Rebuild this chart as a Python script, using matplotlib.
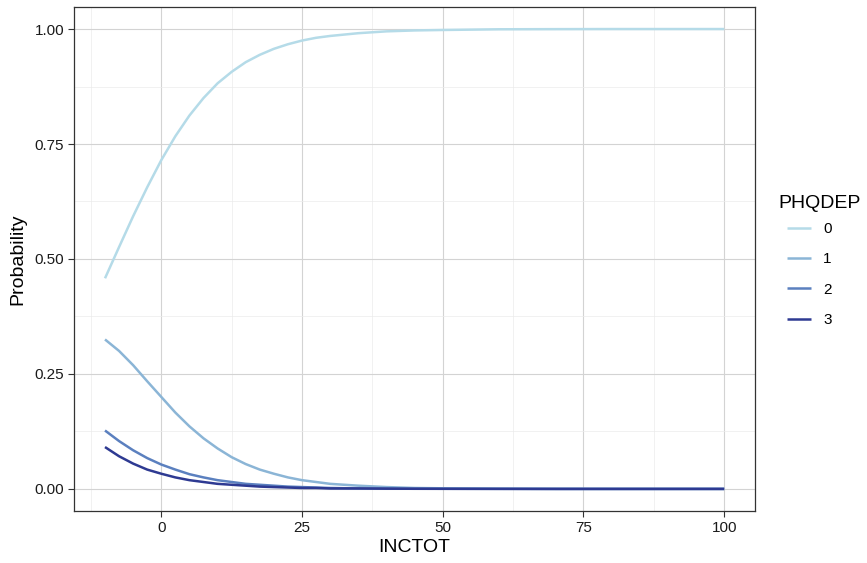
import matplotlib
matplotlib.use("Agg")
import matplotlib.pyplot as plt
from matplotlib.ticker import MultipleLocator

plt.rcParams["font.family"] = ["Liberation Sans", "DejaVu Sans"]

# predicted probabilities
inctot = [-10, -7.5, -5, -2.5, 0, 2.5, 5, 7.5, 10, 12.5, 15, 17.5, 20, 22.5,
          25, 27.5, 30, 35, 40, 45, 50, 60, 70, 80, 90, 100]
p0 = [0.458, 0.526, 0.593, 0.656, 0.715, 0.767, 0.812, 0.850, 0.882, 0.907,
      0.928, 0.944, 0.957, 0.967, 0.975, 0.981, 0.985, 0.991, 0.995, 0.997,
      0.998, 0.9995, 0.9998, 1.0, 1.0, 1.0]
p1 = [0.325, 0.300, 0.269, 0.234, 0.200, 0.166, 0.136, 0.110, 0.088, 0.069,
      0.054, 0.042, 0.033, 0.025, 0.019, 0.015, 0.011, 0.007, 0.004, 0.002,
      0.0013, 0.0004, 0.0001, 0.0, 0.0, 0.0]
p2 = [0.127, 0.104, 0.084, 0.067, 0.053, 0.042, 0.032, 0.025, 0.019, 0.015,
      0.011, 0.009, 0.007, 0.005, 0.004, 0.003, 0.002, 0.001, 0.001, 0.0005,
      0.0003, 0.0001, 0.0, 0.0, 0.0, 0.0]
p3 = [0.091, 0.071, 0.055, 0.042, 0.033, 0.025, 0.019, 0.015, 0.011, 0.009,
      0.007, 0.005, 0.004, 0.003, 0.002, 0.002, 0.001, 0.001, 0.0005, 0.0003,
      0.0002, 0.0001, 0.0, 0.0, 0.0, 0.0]
levels = ["0", "1", "2", "3"]
colors = ["#b5dbe8", "#8bb5d6", "#5b80bf", "#2e3a92"]

W, H = 867, 563
fig = plt.figure(figsize=(W / 100, H / 100), dpi=100)
ax = fig.add_axes([0.0854, 0.0924, 0.7856, 0.8952])

for lab, ys, c in zip(levels, [p0, p1, p2, p3], colors):
    ax.plot(inctot, ys, color=c, lw=1.8, label=lab, solid_capstyle="butt",
            solid_joinstyle="round")

ax.set_xlim(-15.5, 105.5)
ax.set_ylim(-0.048, 1.048)
ax.set_xticks([0, 25, 50, 75, 100])
ax.set_yticks([0, 0.25, 0.5, 0.75, 1.0])
ax.set_yticklabels(["0.00", "0.25", "0.50", "0.75", "1.00"])
ax.xaxis.set_minor_locator(MultipleLocator(12.5))
ax.yaxis.set_minor_locator(MultipleLocator(0.125))
ax.grid(which="major", color="#d3d3d3", lw=0.8)
ax.grid(which="minor", color="#ebebeb", lw=0.5)
ax.set_axisbelow(True)
ax.tick_params(which="minor", length=0)
ax.tick_params(which="major", length=4, color="#333333", labelsize=11,
               labelcolor="#1a1a1a", width=0.8, pad=3)
for s in ax.spines.values():
    s.set_color("#333333")
    s.set_linewidth(0.9)

ax.set_xlabel("INCTOT", fontsize=14, labelpad=3)
ax.set_ylabel("Probability", fontsize=14, labelpad=6)

# legend title drawn separately so keys sit indented like ggplot
fig.text(778 / W, 1 - 203 / H, "PHQDEP", fontsize=14, va="center", ha="left")
fig.legend(loc="upper left", bbox_to_anchor=(787 / W, 1 - 222 / H),
           frameon=False, fontsize=11, borderpad=0, borderaxespad=0,
           handlelength=1.57, labelspacing=1.07, handletextpad=0.8)

fig.savefig("out.png", dpi=100)
